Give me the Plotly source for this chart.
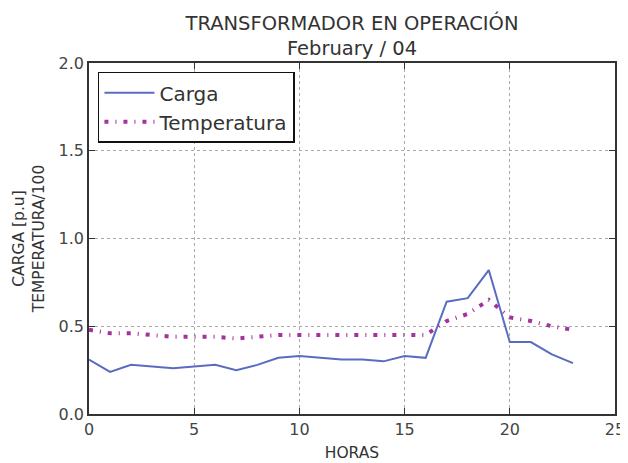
import plotly.graph_objects as go

horas = list(range(24))
carga = [0.31, 0.24, 0.28, 0.27, 0.26, 0.27, 0.28, 0.25, 0.28, 0.32, 0.33, 0.32, 0.31, 0.31,
         0.30, 0.33, 0.32, 0.64, 0.66, 0.82, 0.41, 0.41, 0.34, 0.29]
temperatura = [0.48, 0.46, 0.46, 0.45, 0.44, 0.44, 0.44, 0.43, 0.44, 0.45, 0.45, 0.45, 0.45, 0.45,
               0.45, 0.45, 0.45, 0.53, 0.57, 0.65, 0.55, 0.53, 0.50, 0.48]

fig = go.Figure()
fig.add_trace(go.Scatter(x=horas, y=carga, mode='lines', name='Carga',
                         line=dict(color='#5a6cc0', width=2)))
fig.add_trace(go.Scatter(x=horas, y=temperatura, mode='lines', name='Temperatura',
                         line=dict(color='#a3319e', width=4, dash='4px,7px,1px,7px')))

axis_common = dict(showline=True, linecolor='#333', linewidth=1.5, mirror='ticks',
                   ticks='inside', ticklen=6, tickcolor='#333', automargin=False,
                   ticklabeloverflow='allow',
                   showgrid=True, gridcolor='#aaa', griddash='dot', gridwidth=1,
                   zeroline=False, tickfont=dict(size=16, color='#444'))

# page body adds an 8px margin, so the figure is 8px smaller than the window
fig.update_layout(
    width=620, height=455,
    margin=dict(l=81, r=13, t=55, b=49),
    paper_bgcolor='white', plot_bgcolor='white',
    font=dict(family='DejaVu Sans', color='#333'),
    title=dict(text='TRANSFORMADOR EN OPERACIÓN<br>February / 04', x=0.5, xref='paper',
               xanchor='center', y=0.952, yanchor='top', font=dict(size=19.5, color='#333')),
    xaxis=dict(range=[0, 25], dtick=5, title=dict(text='HORAS', font=dict(size=15.5), standoff=9),
               **axis_common),
    yaxis=dict(range=[0, 2.0], dtick=0.5, tickformat='.1f',
               title=dict(text='CARGA [p.u]<br>TEMPERATURA/100', font=dict(size=15.5), standoff=10),
               **axis_common),
    legend=dict(x=0.017, y=0.975, xanchor='left', yanchor='top', bgcolor='white',
                bordercolor='#111', borderwidth=1.5, itemwidth=50,
                font=dict(size=20, color='#333')),
    showlegend=True,
)

fig.write_html("out.html")
